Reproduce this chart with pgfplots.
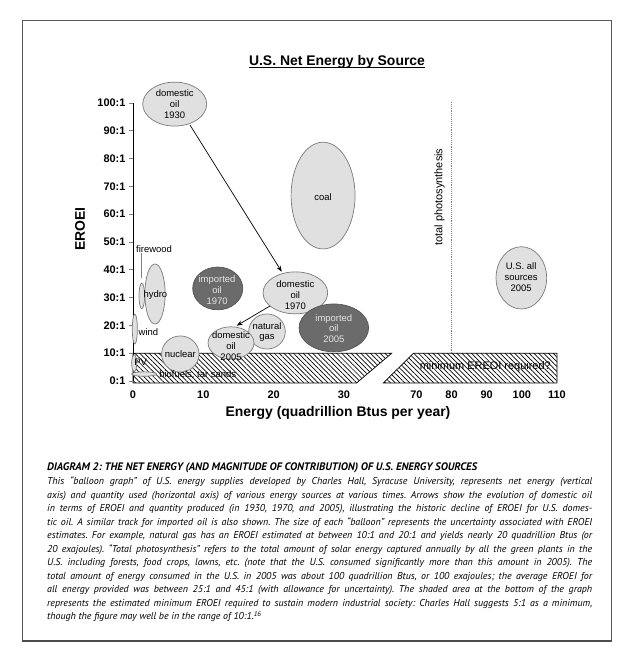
\documentclass[border=0pt]{standalone}
\usepackage{fontspec}
\setmainfont{Liberation Sans}
\newfontfamily\capfont{PT Sans}
\usepackage{pgfplots}
\pgfplotsset{compat=1.18}
\usepackage{pgfplotstable}
\usetikzlibrary{patterns.meta,arrows.meta}
\definecolor{bubfill}{HTML}{E0E0E0}
\definecolor{bubedge}{HTML}{7A7A7A}
\definecolor{darkfill}{HTML}{6B6B6B}
\definecolor{darkedge}{HTML}{555555}
\definecolor{darktext}{HTML}{E4E4E4}
\pgfdeclareplotmark{nothing}{}
% x is plotted on a broken scale: 0-30 as is; 70-110 mapped to u = 40.3 + (x-70)/2
% columns: x (u), EROEI, x radius, y radius (data units)
\pgfplotstableread{
x y rx ry
5.93 99.6 4.55 7.9
27.03 66.7 4.55 19.2
1.25 30.6 0.40 4.6
3.13 31.3 1.44 10.8
0.26 18.7 0.36 5.4
0.17 6.4 0.36 3.0
1.57 2.5 1.78 0.8
6.73 9.7 2.66 6.5
23.09 31.7 4.60 7.55
19.06 17.8 2.60 6.3
13.94 13.7 3.27 5.8
55.23 37.1 3.60 11.2
}\lightbub
\pgfplotstableread{
x y rx ry
12.05 33.3 3.56 7.7
28.56 19.1 4.95 8.6
}\darkbub
\newcommand\lbl{\fontsize{9.5}{10.8}\selectfont}
\begin{document}
\begin{tikzpicture}
\path (0,0) rectangle (634bp,656bp);
\draw[gray!70!black, line width=0.8bp] (22bp,15bp) rectangle (611bp,636bp);
\draw[gray!60!black, line width=1.6bp] (22bp,15bp) -- (611bp,15bp);
\begin{axis}[
  at={(133bp,275bp)}, anchor=south west,
  scale only axis, width=424bp, height=278bp,
  xmin=0, xmax=60.3, ymin=0, ymax=100,
  clip=false, axis on top,
  axis y line*=left, axis x line*=bottom,
  x axis line style={draw=none},
  y axis line style={line width=0.8bp},
  xtick={0,10,20,30,40.3,45.3,50.3,55.3,60.3},
  xticklabels={0,10,20,30,70,80,90,100,110},
  ytick={0,10,20,30,40,50,60,70,80,90,100},
  yticklabels={0:1,10:1,20:1,30:1,40:1,50:1,60:1,70:1,80:1,90:1,100:1},
  xtick style={draw=none},
  ytick style={line width=0.8bp},
  tick align=outside, major tick length=4bp,
  tick label style={font=\fontsize{11}{12}\selectfont\bfseries},
  xticklabel style={yshift=-2bp},
]
% hatched band: minimum EROEI
\addplot[draw=black, line width=0.7bp, pattern={Lines[angle=-45,distance=3.4bp,line width=0.7bp]}]
  coordinates {(0,-0.7) (0,10) (36.8,10) (31.8,-0.7)} -- cycle;
\addplot[draw=black, line width=0.7bp, pattern={Lines[angle=-45,distance=3.4bp,line width=0.7bp]}]
  coordinates {(35.6,-0.7) (39.9,10) (60.3,10) (60.3,-0.7)} -- cycle;
% total photosynthesis (x = 80)
\addplot[gray, densely dotted, line width=0.9bp] coordinates {(45.3,10) (45.3,100.4)};
% firewood leader
\addplot[gray, line width=0.8bp] coordinates {(1.24,46.0) (1.24,37.1)};
% light balloons
\addplot[only marks, mark=nothing, scatter,
  visualization depends on={7.03*\thisrow{rx} \as \rx},
  visualization depends on={2.78*\thisrow{ry} \as \ry},
  scatter/@pre marker code/.code={%
    \pgfpathellipse{\pgfpointorigin}{\pgfpoint{\rx bp}{0pt}}{\pgfpoint{0pt}{\ry bp}}%
    \pgfsetfillcolor{bubfill}\pgfsetstrokecolor{bubedge}\pgfsetlinewidth{0.7bp}%
    \pgfusepath{fill,stroke}},
  scatter/@post marker code/.code={}]
  table {\lightbub};
% dark balloons (imported oil)
\addplot[only marks, mark=nothing, scatter,
  visualization depends on={7.03*\thisrow{rx} \as \rx},
  visualization depends on={2.78*\thisrow{ry} \as \ry},
  scatter/@pre marker code/.code={%
    \pgfpathellipse{\pgfpointorigin}{\pgfpoint{\rx bp}{0pt}}{\pgfpoint{0pt}{\ry bp}}%
    \pgfsetfillcolor{darkfill}\pgfsetstrokecolor{darkedge}\pgfsetlinewidth{0.7bp}%
    \pgfusepath{fill,stroke}},
  scatter/@post marker code/.code={}]
  table {\darkbub};
% arrows for domestic oil
\addplot[black, line width=0.7bp, -{Stealth[length=6bp,width=4.5bp]}] coordinates {(8.1,92.1) (21.15,39.3)};
\addplot[black, line width=0.7bp, -{Stealth[length=6bp,width=4.5bp]}] coordinates {(19.96,27.7) (14.75,19.9)};
% label anchors
\coordinate (Ld1930) at (axis cs:5.93,99.6);
\coordinate (Lcoal) at (axis cs:27.03,66.2);
\coordinate (Lfire) at (axis cs:3.0,47.5);
\coordinate (Lhydro) at (axis cs:3.18,31.0);
\coordinate (Lwind) at (axis cs:2.2,17.6);
\coordinate (Lpv) at (axis cs:1.1,6.8);
\coordinate (Lbio) at (axis cs:9.2,2.2);
\coordinate (Lnuc) at (axis cs:6.73,9.7);
\coordinate (Li1970) at (axis cs:11.95,32.6);
\coordinate (Ld1970) at (axis cs:23.09,30.9);
\coordinate (Li2005) at (axis cs:28.56,18.9);
\coordinate (Lgas) at (axis cs:19.06,17.6);
\coordinate (Ld2005) at (axis cs:13.94,12.6);
\coordinate (Lus) at (axis cs:55.2,37.4);
\coordinate (Lmin) at (axis cs:50.1,5.0);
\coordinate (Lphoto) at (axis cs:43.6,66.2);
\end{axis}
% balloon labels
\node[align=center, font=\lbl, inner sep=0] at (Ld1930) {domestic\\oil\\1930};
\node[font=\lbl, inner sep=0] at (Lcoal) {coal};
\node[font=\lbl, inner sep=0] at (Lfire) {firewood};
\node[font=\lbl, inner sep=0] at (Lhydro) {hydro};
\node[font=\lbl, inner sep=0] at (Lwind) {wind};
\node[font=\lbl, inner sep=0] at (Lpv) {PV};
\node[font=\lbl, inner sep=0] at (Lbio) {biofuels, tar sands};
\node[font=\lbl, inner sep=0] at (Lnuc) {nuclear};
\node[align=center, font=\lbl, inner sep=0, text=darktext] at (Li1970) {imported\\oil\\1970};
\node[align=center, font=\lbl, inner sep=0] at (Ld1970) {domestic\\oil\\1970};
\node[align=center, font=\lbl, inner sep=0, text=darktext] at (Li2005) {imported\\oil\\2005};
\node[align=center, font=\lbl, inner sep=0] at (Lgas) {natural\\gas};
\node[align=center, font=\lbl, inner sep=0] at (Ld2005) {domestic\\oil\\2005};
\node[align=center, font=\lbl, inner sep=0] at (Lus) {U.S. all\\sources\\2005};
\node[font=\fontsize{11}{12}\selectfont, inner sep=0] at (Lmin) {minimum EREOI required?};
\node[font=\fontsize{11}{12}\selectfont, inner sep=0, rotate=90] at (Lphoto) {total photosynthesis};
% title, axis labels
\node[font=\fontsize{14}{16}\selectfont\bfseries, inner sep=0, anchor=base] (t) at (337bp,590bp) {U.S. Net Energy by Source};
\draw[line width=0.9bp] ([yshift=-1.8bp]t.base west) -- ([yshift=-1.8bp]t.base east);
\node[font=\fontsize{14}{16}\selectfont\bfseries, inner sep=0] at (338bp,243bp) {Energy (quadrillion Btus per year)};
\node[font=\fontsize{14}{16}\selectfont\bfseries, inner sep=0, rotate=90] at (80bp,427bp) {EROEI};
% caption
\node[anchor=north west, inner sep=0, text width=545bp, align=justify,
      font=\capfont\itshape\fontsize{10}{13.6}\selectfont\frenchspacing] at (47bp,193bp) {%
{\fontsize{10.9}{13.6}\selectfont\bfseries DIAGRAM 2: THE NET ENERGY (AND MAGNITUDE OF CONTRIBUTION) OF U.S. ENERGY SOURCES}\newline
This “balloon graph” of U.S. energy supplies developed by Charles Hall, Syracuse University, represents net energy (vertical\linebreak
axis) and quantity used (horizontal axis) of various energy sources at various times. Arrows show the evolution of domestic oil\linebreak
in terms of EROEI and quantity produced (in 1930, 1970, and 2005), illustrating the historic decline of EROEI for U.S. domes-\linebreak
tic oil. A similar track for imported oil is also shown. The size of each “balloon” represents the uncertainty associated with EROEI\linebreak
estimates. For example, natural gas has an EROEI estimated at between 10:1 and 20:1 and yields nearly 20 quadrillion Btus (or\linebreak
20 exajoules). “Total photosynthesis” refers to the total amount of solar energy captured annually by all the green plants in the\linebreak
U.S. including forests, food crops, lawns, etc. (note that the U.S. consumed significantly more than this amount in 2005). The\linebreak
total amount of energy consumed in the U.S. in 2005 was about 100 quadrillion Btus, or 100 exajoules; the average EROEI for\linebreak
all energy provided was between 25:1 and 45:1 (with allowance for uncertainty). The shaded area at the bottom of the graph\linebreak
represents the estimated minimum EROEI required to sustain modern industrial society: Charles Hall suggests 5:1 as a minimum,\linebreak
though the figure may well be in the range of 10:1.\textsuperscript{16}};
\end{tikzpicture}
\end{document}
